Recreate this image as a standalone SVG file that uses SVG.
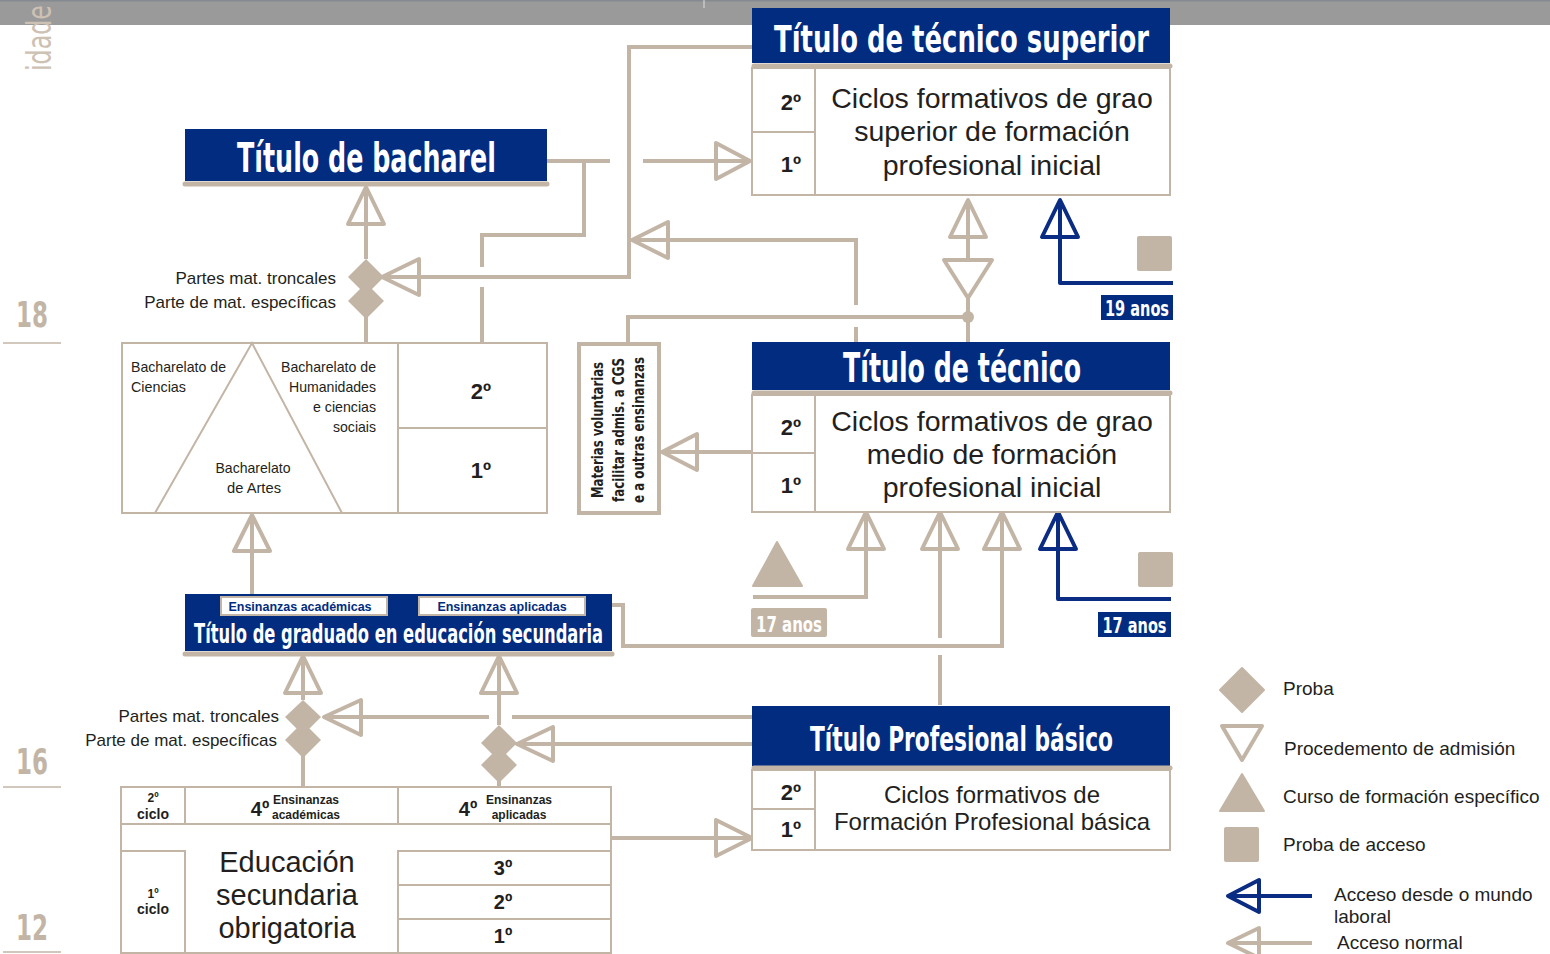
<svg xmlns="http://www.w3.org/2000/svg" width="1550" height="954" viewBox="0 0 1550 954">
<style>
.ln{fill:none;stroke:#c3b5a6;stroke-width:4;stroke-linecap:butt;stroke-linejoin:miter}
.ah{fill:none;stroke:#c3b5a6;stroke-width:4;stroke-linejoin:round}
.bl{fill:none;stroke:#0a2c82;stroke-width:4;stroke-linejoin:round}
.box{fill:#fff;stroke:#c3b5a6;stroke-width:2}
.thin{fill:none;stroke:#c3b5a6;stroke-width:2}
.ul{stroke:#c3b5a6;stroke-width:5;stroke-linecap:round}
.tb{fill:#022c7f}
.tt{font-family:"Liberation Sans Narrow","DejaVu Sans Condensed","Liberation Sans",sans-serif;font-weight:bold;fill:#fff;text-anchor:middle}
.tx{font-family:"Liberation Sans",Arial,sans-serif;fill:#231f20}
.nb{font-family:"Liberation Sans",Arial,sans-serif;font-weight:bold;fill:#231f20;text-anchor:middle}
.fill{fill:#c3b5a6}
.age{font-family:"Liberation Sans Narrow","DejaVu Sans Condensed","Liberation Sans",sans-serif;font-weight:bold;fill:#c3b5a6;font-size:36px}
.lab{font-family:"Liberation Sans Narrow","DejaVu Sans Condensed","Liberation Sans",sans-serif;font-weight:bold;fill:#fff;font-size:21px;text-anchor:middle}
</style>

<!-- top bar -->
<rect x="0" y="0" width="1550" height="25" fill="#9a9a9a"/>
<rect x="0" y="0" width="1550" height="1.5" fill="#848a90"/>
<line x1="704" y1="0" x2="704" y2="8" stroke="#e0e0e0" stroke-width="1"/>
<text transform="translate(51,71) rotate(-90)" font-family="'Liberation Sans Narrow','DejaVu Sans Condensed','Liberation Sans',sans-serif" font-size="33" fill="#cdc1b4" textLength="66" lengthAdjust="spacingAndGlyphs">idade</text>

<!-- ages -->
<g id="ages">
<text class="age" x="32" y="327" text-anchor="middle" textLength="32" lengthAdjust="spacingAndGlyphs">18</text>
<line x1="3" y1="343" x2="61" y2="343" stroke="#c3b5a6" stroke-width="1.5"/>
<text class="age" x="32" y="774" text-anchor="middle" textLength="32" lengthAdjust="spacingAndGlyphs">16</text>
<line x1="3" y1="787" x2="61" y2="787" stroke="#c3b5a6" stroke-width="1.5"/>
<text class="age" x="32" y="940" text-anchor="middle" textLength="32" lengthAdjust="spacingAndGlyphs">12</text>
<line x1="3" y1="952" x2="61" y2="952" stroke="#c3b5a6" stroke-width="1.5"/>
</g>

<!-- connectors -->
<g id="connectors">
<polyline class="ln" points="547,161 610,161"/>
<polyline class="ln" points="643,161 748,161"/>
<polygon class="ah" points="750,161 716,143 716,179"/>
<polyline class="ln" points="584,161 584,235 482,235 482,267"/>
<polyline class="ln" points="482,287 482,343"/>
<polyline class="ln" points="752,47 629,47 629,277 384,277"/>
<polygon class="ah" points="382,277 419,259 419,295"/>
<polyline class="ln" points="856,305 856,240 634,240"/>
<polyline class="ln" points="856,327 856,342"/>
<polygon class="ah" points="632,240 668,222 668,258"/>
<polyline class="ln" points="628,343 628,317 968,317"/>
<circle cx="968" cy="317" r="6" class="fill"/>
<polyline class="ln" points="968,298 968,342"/>
<polyline class="ln" points="968,260 968,202"/>
<polygon class="ah" points="968,200 950,237 986,237"/>
<polygon class="ah" points="944,260 992,260 968,298"/>
<polyline class="bl" points="1173,283 1060,283 1060,202"/>
<polygon class="bl" points="1060,200 1042,237 1078,237"/>
<polyline class="ln" points="752,452 664,452"/>
<polygon class="ah" points="662,452 697,434 697,470"/>
<polyline class="ln" points="366,259 366,189"/>
<polygon class="ah" points="366,187 348,224 384,224"/>
<polyline class="ln" points="366,315 366,343"/>
<polyline class="ln" points="252,595 252,517"/>
<polygon class="ah" points="252,515 234,551 270,551"/>
<polyline class="ln" points="585,605 623,605 623,646 1002,646 1002,514"/>
<polygon class="ah" points="1002,512 984,549 1020,549"/>
<polyline class="ln" points="940,705 940,655"/>
<polyline class="ln" points="940,638 940,514"/>
<polygon class="ah" points="940,512 922,549 958,549"/>
<polyline class="ln" points="753,597 866,597 866,514"/>
<polygon class="ah" points="866,512 848,549 884,549"/>
<polyline class="bl" points="1171,599 1058,599 1058,514"/>
<polygon class="bl" points="1058,512 1040,549 1076,549"/>
<polyline class="ln" points="303,700 303,658"/>
<polygon class="ah" points="303,656 285,693 321,693"/>
<polyline class="ln" points="303,755 303,787"/>
<polyline class="ln" points="499,725 499,658"/>
<polygon class="ah" points="499,656 481,693 517,693"/>
<polyline class="ln" points="499,780 499,787"/>
<polyline class="ln" points="752,717 512,717"/>
<polyline class="ln" points="489,717 326,717"/>
<polygon class="ah" points="324,717 361,700 361,735"/>
<polyline class="ln" points="752,744 519,744"/>
<polygon class="ah" points="517,744 553,727 553,761"/>
<polyline class="ln" points="504,851 504,838 750,838"/>
<polygon class="ah" points="752,838 716,820 716,856"/>
</g>

<!-- diamonds (proba) -->
<g id="probas" class="fill">
<polygon points="366,259 384,277 366,295 348,277"/>
<polygon points="366,283 384,301 366,319 348,301"/>
<polygon points="303,700 321,717 303,735 285,717"/>
<polygon points="303,722 321,740 303,758 285,740"/>
<polygon points="499,725 517,743 499,761 481,743"/>
<polygon points="499,747 517,765 499,783 481,765"/>
</g>
<g id="proba-labels">
<text class="tx" x="336" y="284" font-size="17" text-anchor="end">Partes mat. troncales</text>
<text class="tx" x="336" y="308" font-size="17" text-anchor="end">Parte de mat. específicas</text>
<text class="tx" x="279" y="722" font-size="17" text-anchor="end">Partes mat. troncales</text>
<text class="tx" x="277" y="746" font-size="17" text-anchor="end">Parte de mat. específicas</text>
</g>

<!-- Titulo tecnico superior -->
<g id="tecnico-superior">
<rect class="tb" x="752" y="8" width="418" height="55"/>
<text class="tt" x="961.5" y="52" font-size="38" textLength="375" lengthAdjust="spacingAndGlyphs">Título de técnico superior</text>
<line class="ul" x1="754" y1="66" x2="1170" y2="66"/>
<rect class="box" x="752" y="68" width="418" height="127"/>
<line class="thin" x1="815" y1="68" x2="815" y2="195"/>
<line class="thin" x1="752" y1="132" x2="815" y2="132"/>
<text class="nb" x="791" y="110" font-size="22">2º</text>
<text class="nb" x="791" y="172" font-size="22">1º</text>
<text class="tx" x="992" y="108" font-size="28.5" text-anchor="middle">Ciclos formativos de grao</text>
<text class="tx" x="992" y="141" font-size="28.5" text-anchor="middle">superior de formación</text>
<text class="tx" x="992" y="175" font-size="28.5" text-anchor="middle">profesional inicial</text>
</g>

<!-- Titulo de bacharel -->
<g id="bacharel">
<rect class="tb" x="185" y="129" width="362" height="52"/>
<text class="tt" x="366.5" y="172" font-size="40" textLength="259" lengthAdjust="spacingAndGlyphs">Título de bacharel</text>
<line class="ul" x1="185" y1="184" x2="547" y2="184"/>
</g>

<!-- Bacharelato box -->
<g id="bacharelato">
<rect class="box" x="122" y="343" width="425" height="170"/>
<line class="thin" x1="398" y1="343" x2="398" y2="513"/>
<line class="thin" x1="398" y1="428" x2="547" y2="428"/>
<polyline class="thin" points="155,513 252,343 342,513"/>
<g class="tx" font-size="15">
<text x="131" y="372" textLength="95" lengthAdjust="spacingAndGlyphs">Bacharelato de</text>
<text x="131" y="392" textLength="55" lengthAdjust="spacingAndGlyphs">Ciencias</text>
<text x="376" y="372" text-anchor="end" textLength="95" lengthAdjust="spacingAndGlyphs">Bacharelato de</text>
<text x="376" y="392" text-anchor="end" textLength="87" lengthAdjust="spacingAndGlyphs">Humanidades</text>
<text x="376" y="412" text-anchor="end" textLength="63" lengthAdjust="spacingAndGlyphs">e ciencias</text>
<text x="376" y="432" text-anchor="end" textLength="43" lengthAdjust="spacingAndGlyphs">sociais</text>
<text x="253" y="473" text-anchor="middle" textLength="75" lengthAdjust="spacingAndGlyphs">Bacharelato</text>
<text x="254" y="493" text-anchor="middle" textLength="54" lengthAdjust="spacingAndGlyphs">de Artes</text>
</g>
<text class="nb" x="481" y="399" font-size="22">2º</text>
<text class="nb" x="481" y="478" font-size="22">1º</text>
</g>

<!-- Materias voluntarias -->
<g id="materias">
<rect x="579" y="344" width="80" height="169" fill="#fff" stroke="#c3b5a6" stroke-width="4"/>
<g font-family="'Liberation Sans Narrow','DejaVu Sans Condensed','Liberation Sans',sans-serif" font-weight="bold" font-size="15" fill="#231f20" text-anchor="middle">
<text transform="translate(603,430) rotate(-90)" textLength="136" lengthAdjust="spacingAndGlyphs">Materias voluntarias</text>
<text transform="translate(624,430) rotate(-90)" textLength="144" lengthAdjust="spacingAndGlyphs">facilitar admis. a CGS</text>
<text transform="translate(644,430) rotate(-90)" textLength="146" lengthAdjust="spacingAndGlyphs">e a outras ensinanzas</text>
</g>
</g>

<!-- Titulo de tecnico -->
<g id="tecnico">
<rect class="tb" x="752" y="342" width="418" height="48"/>
<text class="tt" x="962" y="382" font-size="40" textLength="238" lengthAdjust="spacingAndGlyphs">Título de técnico</text>
<line class="ul" x1="754" y1="393" x2="1170" y2="393"/>
<rect class="box" x="752" y="395" width="418" height="117"/>
<line class="thin" x1="815" y1="395" x2="815" y2="512"/>
<line class="thin" x1="752" y1="453" x2="815" y2="453"/>
<text class="nb" x="791" y="435" font-size="22">2º</text>
<text class="nb" x="791" y="493" font-size="22">1º</text>
<text class="tx" x="992" y="431" font-size="28.5" text-anchor="middle">Ciclos formativos de grao</text>
<text class="tx" x="992" y="464" font-size="28.5" text-anchor="middle">medio de formación</text>
<text class="tx" x="992" y="497" font-size="28.5" text-anchor="middle">profesional inicial</text>
</g>

<!-- access markers -->
<g id="acceso-19">
<rect x="1137" y="236" width="35" height="35" rx="2" class="fill"/>
<rect x="1101" y="295" width="72" height="25" fill="#022c7f"/>
<text class="lab" x="1137" y="316" textLength="64" lengthAdjust="spacingAndGlyphs">19 anos</text>
</g>
<g id="curso-17">
<polygon points="777,542 802,586 753,586" class="fill" stroke="#c3b5a6" stroke-width="2" stroke-linejoin="round"/>
<rect x="751" y="608" width="76" height="29" rx="2" class="fill"/>
<text class="lab" x="789" y="632" textLength="66" lengthAdjust="spacingAndGlyphs">17 anos</text>
</g>
<g id="acceso-17">
<rect x="1138" y="552" width="35" height="35" rx="2" class="fill"/>
<rect x="1098" y="612" width="73" height="25" fill="#022c7f"/>
<text class="lab" x="1134.5" y="633" textLength="64" lengthAdjust="spacingAndGlyphs">17 anos</text>
</g>

<!-- Titulo graduado ESO -->
<g id="graduado">
<rect class="tb" x="185" y="594" width="427" height="57"/>
<rect x="221" y="597" width="166" height="18" fill="#fff" stroke="#c3b5a6" stroke-width="2"/>
<rect x="419" y="597" width="166" height="18" fill="#fff" stroke="#c3b5a6" stroke-width="2"/>
<text x="300" y="611" font-family="'Liberation Sans',Arial,sans-serif" font-weight="bold" font-size="12.5" fill="#022c7f" text-anchor="middle">Ensinanzas académicas</text>
<text x="502" y="611" font-family="'Liberation Sans',Arial,sans-serif" font-weight="bold" font-size="12.5" fill="#022c7f" text-anchor="middle">Ensinanzas aplicadas</text>
<text class="tt" x="398.5" y="643" font-size="27" textLength="409" lengthAdjust="spacingAndGlyphs">Título de graduado en educación secundaria</text>
<line class="ul" x1="185" y1="654" x2="612" y2="654"/>
</g>

<!-- ESO box -->
<g id="eso">
<rect class="box" x="121" y="787" width="490" height="166"/>
<line class="thin" x1="121" y1="824" x2="611" y2="824"/>
<line class="thin" x1="185" y1="787" x2="185" y2="824"/>
<line class="thin" x1="398" y1="787" x2="398" y2="824"/>
<rect class="thin" x="121" y="851" width="64" height="102"/>
<rect class="thin" x="398" y="851" width="213" height="102"/>
<line class="thin" x1="398" y1="885" x2="611" y2="885"/>
<line class="thin" x1="398" y1="919" x2="611" y2="919"/>
<text class="nb" x="153" y="802" font-size="12">2º</text>
<text class="nb" x="153" y="819" font-size="14">ciclo</text>
<text class="nb" x="153" y="898" font-size="12">1º</text>
<text class="nb" x="153" y="914" font-size="14">ciclo</text>
<text class="nb" x="260" y="816" font-size="20">4º</text>
<text class="nb" x="306" y="804" font-size="12">Ensinanzas</text>
<text class="nb" x="306" y="819" font-size="12">académicas</text>
<text class="nb" x="468" y="816" font-size="20">4º</text>
<text class="nb" x="519" y="804" font-size="12">Ensinanzas</text>
<text class="nb" x="519" y="819" font-size="12">aplicadas</text>
<text class="tx" x="287" y="872" font-size="29" text-anchor="middle">Educación</text>
<text class="tx" x="287" y="905" font-size="29" text-anchor="middle">secundaria</text>
<text class="tx" x="287" y="938" font-size="29" text-anchor="middle">obrigatoria</text>
<text class="nb" x="503" y="875" font-size="20">3º</text>
<text class="nb" x="503" y="909" font-size="20">2º</text>
<text class="nb" x="503" y="943" font-size="20">1º</text>
</g>

<!-- Titulo profesional basico -->
<g id="profesional-basico">
<rect class="tb" x="752" y="706" width="418" height="60"/>
<text class="tt" x="961.5" y="751" font-size="33" textLength="303" lengthAdjust="spacingAndGlyphs">Título Profesional básico</text>
<line class="ul" x1="754" y1="768" x2="1170" y2="768"/>
<rect class="box" x="752" y="770" width="418" height="80"/>
<line class="thin" x1="815" y1="770" x2="815" y2="850"/>
<line class="thin" x1="752" y1="809" x2="815" y2="809"/>
<text class="nb" x="791" y="800" font-size="22">2º</text>
<text class="nb" x="791" y="837" font-size="22">1º</text>
<text class="tx" x="992" y="803" font-size="24" text-anchor="middle">Ciclos formativos de</text>
<text class="tx" x="992" y="830" font-size="24" text-anchor="middle">Formación Profesional básica</text>
</g>

<!-- legend -->
<g id="legend">
<polygon points="1242,668 1264,690 1242,712 1220,690" class="fill" stroke="#c3b5a6" stroke-width="2" stroke-linejoin="round"/>
<text class="tx" x="1283" y="695" font-size="19">Proba</text>
<polygon class="ah" points="1222,726 1262,726 1242,760"/>
<text class="tx" x="1284" y="755" font-size="19">Procedemento de admisión</text>
<polygon points="1242,774 1264,811 1220,811" class="fill" stroke="#c3b5a6" stroke-width="2" stroke-linejoin="round"/>
<text class="tx" x="1283" y="803" font-size="19">Curso de formación específico</text>
<rect x="1224" y="827" width="35" height="35" rx="2" class="fill"/>
<text class="tx" x="1283" y="851" font-size="19">Proba de acceso</text>
<polyline class="bl" points="1312,896 1230,896"/>
<polygon class="bl" points="1228,896 1259,880 1259,912"/>
<text class="tx" x="1334" y="901" font-size="19">Acceso desde o mundo</text>
<text class="tx" x="1334" y="923" font-size="19">laboral</text>
<polyline class="ln" points="1312,943 1230,943"/>
<polygon class="ah" points="1228,943 1259,928 1259,958"/>
<text class="tx" x="1337" y="949" font-size="19">Acceso normal</text>
</g>
</svg>
